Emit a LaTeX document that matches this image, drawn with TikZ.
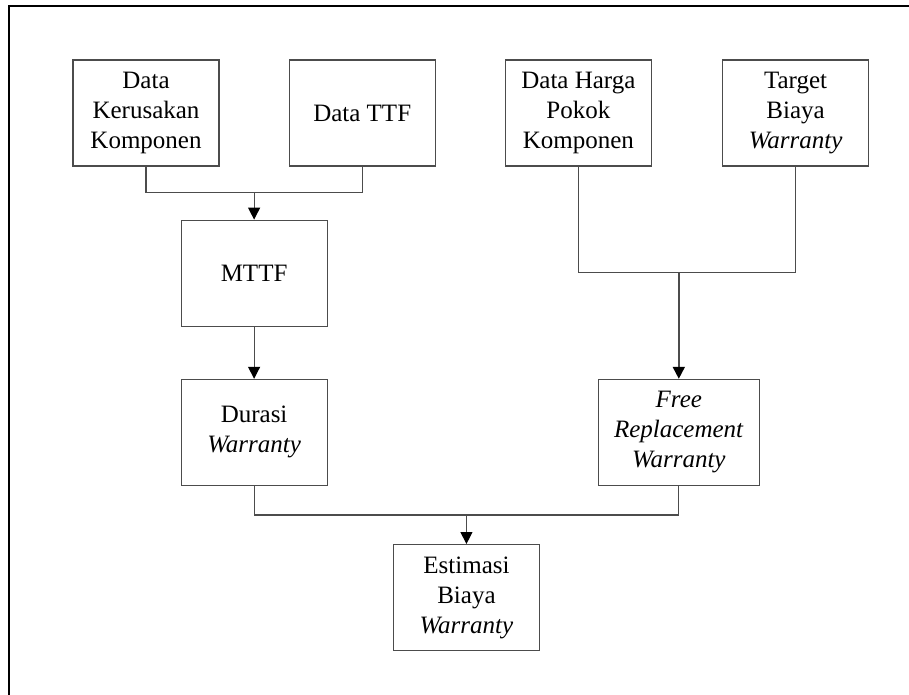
\documentclass[tikz,border=0pt]{standalone}
\usepackage{fontspec}
\setmainfont{Liberation Serif}
\usepackage{tikz}
\usetikzlibrary{positioning}
\usetikzlibrary{calc}
\usetikzlibrary{arrows.meta}

\begin{document}
\begin{tikzpicture}[bxnode/.style={rectangle, draw=black!70, line width=0.6pt, minimum width=73pt, minimum height=53pt, align=center, inner sep=1pt, font=\fontsize{12.5}{15}\selectfont},
	link/.style={draw=black!70, line width=0.6pt},
	arr/.style={link, -{Triangle[length=6pt,width=6pt,color=black]}}]
	\useasboundingbox (0,0) rectangle (454.5pt,-347.5pt);
	\draw[line width=1pt] (4.65pt,-347.5pt) |- (454.5pt,-3pt);
	\node[bxnode] (kerusakan) at (73pt,-56.5pt) {Data\\Kerusakan\\Komponen};
	\node[bxnode] (ttf) [right = 34.5pt of kerusakan] {Data TTF};
	\node[bxnode] (hpp) [right = 34.5pt of ttf] {Data Harga\\Pokok\\Komponen};
	\node[bxnode] (target) [right = 35pt of hpp] {Target\\Biaya\\\textit{Warranty}};
	\coordinate (topmid) at ($(kerusakan.south)!0.5!(ttf.south)$);
	\node[bxnode] (mttf) [below = 26.5pt of topmid] {MTTF};
	\node[bxnode] (durasi) [below = 26pt of mttf] {Durasi\\\textit{Warranty}};
	\node[bxnode, minimum width=80.5pt] (frw) [right = 135pt of durasi] {\textit{Free}\\\textit{Replacement}\\\textit{Warranty}};
	\coordinate (botmid) at ($(durasi.south)!0.5!(frw.south)$);
	\node[bxnode] (estimasi) [below = 29pt of botmid] {Estimasi\\Biaya\\\textit{Warranty}};
	% joins
	\coordinate (ljoin) at ($(mttf.north)+(0,13.5pt)$);
	\coordinate (rjoin) at ($(frw.north)+(0,53pt)$);
	\coordinate (bjoin) at ($(estimasi.north)+(0,14.5pt)$);
	\draw[link] (kerusakan.south) |- (ljoin) -| (ttf.south);
	\draw[arr] (ljoin) -- (mttf.north);
	\draw[arr] (mttf.south) -- (durasi.north);
	\draw[link] (hpp.south) |- (rjoin) -| (target.south);
	\draw[arr, line width=0.9pt] (rjoin) -- (frw.north);
	\draw[link] (durasi.south) |- (bjoin) -| (frw.south);
	\draw[arr] (bjoin) -- (estimasi.north);
\end{tikzpicture}
\end{document}
